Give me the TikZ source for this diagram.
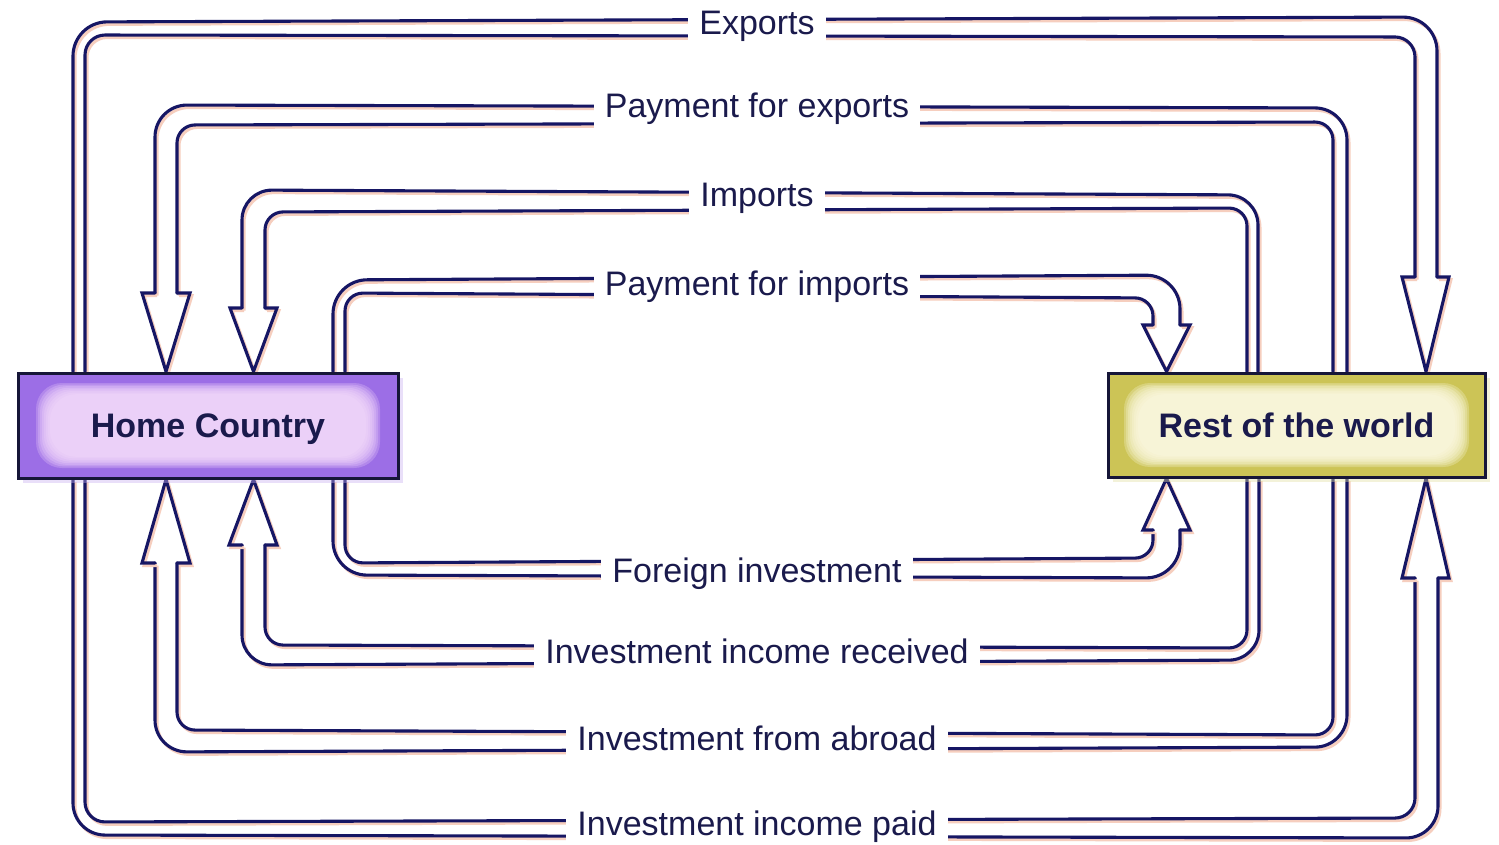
\documentclass[tikz,border=0pt]{standalone}
\usepackage{fontspec}
\setmainfont{Liberation Sans}
\usetikzlibrary{calc,shadows}
\pgfdeclarelayer{bg}
\pgfsetlayers{bg,main}
\definecolor{ln}{RGB}{22,22,100}
\definecolor{txt}{RGB}{26,26,76}
\definecolor{shd}{RGB}{246,206,190}
\definecolor{hcedge}{RGB}{156,110,230}
\definecolor{hclight}{RGB}{248,222,252}
\definecolor{rwedge}{RGB}{204,196,86}
\definecolor{rwlight}{RGB}{253,251,230}
\definecolor{bxline}{RGB}{22,22,56}
\begin{document}
\begin{tikzpicture}[x=1pt,y=-1pt,
  flow/.style={draw=ln, line width=3.1pt, line cap=round, line join=round,
     preaction={draw=shd, line width=3pt, transform canvas={shift={(2pt,-2.5pt)}}}},
  head/.style={flow, line join=miter},
  lbl/.style={fill=white, font=\fontsize{34}{40}\selectfont, text=txt,
     inner xsep=11pt, inner ysep=3pt, text height=25pt, text depth=7pt, anchor=base},
  box/.style={rectangle, draw=bxline, line width=3pt, inner sep=0pt,
     font=\bfseries\fontsize{34}{40}\selectfont, text=txt, text height=24pt, text depth=0pt},
  hcbox/.style={box, fill=hcedge, minimum width=380pt, minimum height=105pt,
     drop shadow={shadow xshift=5pt, shadow yshift=-5pt, fill=hcedge!55, opacity=.4},
     path picture={\foreach \i in {0,...,7}{
       \fill[hclight, opacity=.24, rounded corners=26pt]
         ([xshift={(18+2*\i)*1pt}, yshift={(10+1.6*\i)*1pt}]path picture bounding box.south west)
         rectangle
         ([xshift={-(18+2*\i)*1pt}, yshift={-(10+1.6*\i)*1pt}]path picture bounding box.north east);}}},
  rwbox/.style={box, fill=rwedge, minimum width=377pt, minimum height=104pt,
     drop shadow={shadow xshift=5pt, shadow yshift=-5pt, fill=rwedge!55, opacity=.4},
     path picture={\foreach \i in {0,...,7}{
       \fill[rwlight, opacity=.26, rounded corners=26pt]
         ([xshift={(16+2*\i)*1pt}, yshift={(10+1.6*\i)*1pt}]path picture bounding box.south west)
         rectangle
         ([xshift={-(16+2*\i)*1pt}, yshift={-(10+1.6*\i)*1pt}]path picture bounding box.north east);}}}
]
\useasboundingbox (0,0) rectangle (1499,845);

\node[hcbox] (hc) at (208,425.5) {Home Country};
\node[rwbox] (rw) at (1296.5,425) {Rest of the world};

\node[lbl] (l1) at (757,35) {Exports};
\node[lbl] (l2) at (757,118) {Payment for exports};
\node[lbl] (l3) at (757,207) {Imports};
\node[lbl] (l4) at (757,295) {Payment for imports};
\node[lbl] (l5) at (757,582) {Foreign investment};
\node[lbl] (l6) at (757,663) {Investment income received};
\node[lbl] (l7) at (757,750) {Investment from abroad};
\node[lbl] (l8) at (757,835) {Investment income paid};

\begin{pgfonlayer}{bg}
\fill[white] (0,0) rectangle (1499,845);
% Exports
\draw[flow, rounded corners=34pt] (73,0 |- hc.north) -- (73,22) -- (1437,17) -- (1437,277);
\draw[flow, rounded corners=20pt] (85,0 |- hc.north) -- (85,35) -- (1415,37) -- (1415,277);
\draw[head] (1437,277) -- (1449,277) -- (1426,0 |- rw.north) -- (1402,277) -- (1415,277);
% Payment for exports
\draw[flow, rounded corners=32pt] (1347,0 |- rw.north) -- (1347,108) -- (155,105) -- (155,293);
\draw[flow, rounded corners=18pt] (1333,0 |- rw.north) -- (1333,122) -- (177,125) -- (177,293);
\draw[head] (155,293) -- (142,293) -- (166,0 |- hc.north) -- (190,293) -- (177,293);
% Imports
\draw[flow, rounded corners=30pt] (1258,0 |- rw.north) -- (1258,195) -- (242,190) -- (242,308);
\draw[flow, rounded corners=18pt] (1247,0 |- rw.north) -- (1247,208) -- (265,212) -- (265,308);
\draw[head] (242,308) -- (230,308) -- (253.5,0 |- hc.north) -- (277,308) -- (265,308);
% Payment for imports
\draw[flow, rounded corners=34pt] (333,0 |- hc.north) -- (333,280) -- (1180,275) -- (1180,325);
\draw[flow, rounded corners=18pt] (345,0 |- hc.north) -- (345,293) -- (1153,298) -- (1153,325);
\draw[head] (1180,325) -- (1190,325) -- (1166.5,0 |- rw.north) -- (1143,325) -- (1153,325);
% Foreign investment
\draw[flow, rounded corners=34pt] (333,0 |- hc.south) -- (333,575) -- (1180,578) -- (1180,530);
\draw[flow, rounded corners=18pt] (345,0 |- hc.south) -- (345,563) -- (1153,558) -- (1153,530);
\draw[head] (1180,530) -- (1190,530) -- (1166.5,0 |- rw.south) -- (1143,530) -- (1153,530);
% Investment income received
\draw[flow, rounded corners=30pt] (1259,0 |- rw.south) -- (1259,660) -- (242,665) -- (242,545);
\draw[flow, rounded corners=18pt] (1247,0 |- rw.south) -- (1247,648) -- (265,645) -- (265,545);
\draw[head] (242,545) -- (229,545) -- (253.5,0 |- hc.south) -- (277,545) -- (265,545);
% Investment from abroad
\draw[flow, rounded corners=32pt] (1347,0 |- rw.south) -- (1347,747) -- (155,752) -- (155,563);
\draw[flow, rounded corners=18pt] (1333,0 |- rw.south) -- (1333,735) -- (177,730) -- (177,563);
\draw[head] (155,563) -- (142,563) -- (166,0 |- hc.south) -- (190,563) -- (177,563);
% Investment income paid
\draw[flow, rounded corners=32pt] (73,0 |- hc.south) -- (73,835) -- (1438,838) -- (1438,578);
\draw[flow, rounded corners=20pt] (85,0 |- hc.south) -- (85,822) -- (1415,818) -- (1415,578);
\draw[head] (1438,578) -- (1449,578) -- (1426,0 |- rw.south) -- (1402,578) -- (1415,578);
\end{pgfonlayer}
\end{tikzpicture}
\end{document}
